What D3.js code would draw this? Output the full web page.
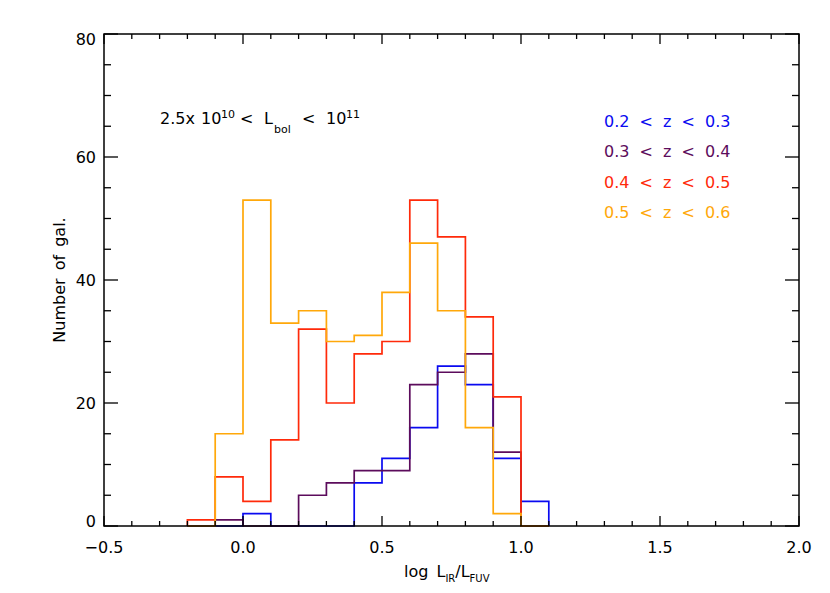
<!DOCTYPE html>
<html>
<head>
<meta charset="utf-8">
<script src="https://cdn.jsdelivr.net/npm/d3@7"></script>
<style>
  body { margin: 0; background: #fff; }
  text { font-family: 'DejaVu Sans', sans-serif; fill: #000; }
</style>
</head>
<body>
<script>
// histogram bins (left edges), width 0.1
const binStarts = [-0.2, -0.1, 0.0, 0.1, 0.2, 0.3, 0.4, 0.5, 0.6, 0.7, 0.8, 0.9, 1.0]
const binWidth = 0.1

const countsZ02 = [0, 0, 2, 0, 0, 0, 7, 11, 16, 26, 23, 11, 4]
const countsZ03 = [0, 1, 0, 0, 5, 7, 9, 9, 23, 25, 28, 12, 0]
const countsZ04 = [1, 8, 4, 14, 32, 20, 28, 30, 53, 47, 34, 21, 0]
const countsZ05 = [0, 15, 53, 33, 35, 30, 31, 38, 46, 35, 16, 2, 0]

const seriesLabels = ['0.2 < z < 0.3', '0.3 < z < 0.4', '0.4 < z < 0.5', '0.5 < z < 0.6']
const seriesColors = ['#0a0af0', '#5c0c5c', '#ff2a0a', '#ffa80a']

const xTicks = [-0.5, 0.0, 0.5, 1.0, 1.5, 2.0]
const xTickLabels = ['\u22120.5', '0.0', '0.5', '1.0', '1.5', '2.0']
const yTicks = [0, 20, 40, 60, 80]

const width = 830
const height = 593
const plotL = 104, plotR = 799, plotT = 34, plotB = 526

const svg = d3.select('body')
    .append('svg')
    .attr('width', width)
    .attr('height', height)

const x = d3.scaleLinear().domain([-0.5, 2.0]).range([plotL, plotR])
const y = d3.scaleLinear().domain([0, 80]).range([plotB, plotT])

// step histograms, drawn back to front
const allCounts = [countsZ02, countsZ03, countsZ04, countsZ05]
const line = d3.line()
    .x(d => x(d[0]))
    .y(d => y(d[1]))

allCounts.forEach((counts, i) => {
    const pts = [[binStarts[0], 0]]
    binStarts.forEach((b, j) => {
        pts.push([b, counts[j]])
        pts.push([b + binWidth, counts[j]])
    })
    pts.push([binStarts[binStarts.length - 1] + binWidth, 0])
    svg.append('path')
        .attr('d', line(pts))
        .attr('fill', 'none')
        .attr('stroke', seriesColors[i])
        .attr('stroke-width', 1.7)
})

// frame
svg.append('rect')
    .attr('x', plotL)
    .attr('y', plotT)
    .attr('width', plotR - plotL)
    .attr('height', plotB - plotT)
    .attr('fill', 'none')
    .attr('stroke', '#000')
    .attr('stroke-width', 1.5)

// ticks on all four sides, pointing inward
const ticks = svg.append('g').attr('stroke', '#000').attr('stroke-width', 1.3)
const xMinor = d3.range(-5, 21).map(k => k / 10)
xMinor.forEach(v => {
    const major = xTicks.some(t => Math.abs(t - v) < 1e-6)
    const len = major ? 10 : 5
    ticks.append('line').attr('x1', x(v)).attr('x2', x(v)).attr('y1', plotB).attr('y2', plotB - len)
    ticks.append('line').attr('x1', x(v)).attr('x2', x(v)).attr('y1', plotT).attr('y2', plotT + len)
})
const yMinor = d3.range(0, 81, 5)
yMinor.forEach(v => {
    const major = yTicks.includes(v)
    const len = major ? 14 : 7
    ticks.append('line').attr('y1', y(v)).attr('y2', y(v)).attr('x1', plotL).attr('x2', plotL + len)
    ticks.append('line').attr('y1', y(v)).attr('y2', y(v)).attr('x1', plotR).attr('x2', plotR - len)
})

// tick labels
svg.append('g')
    .selectAll('text')
    .data(xTicks)
    .enter()
    .append('text')
    .attr('x', d => x(d))
    .attr('y', 553)
    .attr('text-anchor', 'middle')
    .attr('font-size', 16)
    .text((d, i) => xTickLabels[i])

svg.append('g')
    .selectAll('text')
    .data(yTicks)
    .enter()
    .append('text')
    .attr('x', 96)
    .attr('y', d => Math.min(Math.max(y(d), plotT + 5), plotB - 5) + 6)
    .attr('text-anchor', 'end')
    .attr('font-size', 16)
    .text(d => d)

// axis titles
const xTitle = svg.append('text')
    .attr('x', 404)
    .attr('y', 577)
    .attr('font-size', 16)
    .style('word-spacing', '3px')
xTitle.append('tspan').text('log L')
xTitle.append('tspan').attr('font-size', 10).attr('dy', 5).text('IR')
xTitle.append('tspan').attr('dy', -5).text('/L')
xTitle.append('tspan').attr('font-size', 10).attr('dy', 5).text('FUV')

svg.append('text')
    .attr('transform', 'translate(65,280) rotate(-90)')
    .attr('text-anchor', 'middle')
    .attr('font-size', 16)
    .style('word-spacing', '3px')
    .text('Number of gal.')

// luminosity range note
const note = svg.append('text').attr('y', 124).attr('font-size', 16)
note.append('tspan').attr('x', 160).text('2.5x')
note.append('tspan').attr('x', 201).text('10')
note.append('tspan').attr('x', 221).attr('dy', -6).attr('font-size', 11).text('10')
note.append('tspan').attr('x', 240).attr('dy', 6).text('<')
note.append('tspan').attr('x', 264).text('L')
note.append('tspan').attr('x', 274).attr('dy', 9).attr('font-size', 11).text('bol')
note.append('tspan').attr('x', 302).attr('dy', -9).text('<')
note.append('tspan').attr('x', 326).text('10')
note.append('tspan').attr('x', 346).attr('dy', -6).attr('font-size', 11).text('11')

// legend
svg.append('g')
    .selectAll('text')
    .data(seriesLabels)
    .enter()
    .append('text')
    .attr('x', 604)
    .attr('y', (d, i) => 127 + i * 30.3)
    .attr('font-size', 16)
    .style('word-spacing', '5px')
    .style('fill', (d, i) => seriesColors[i])
    .text(d => d)
</script>
</body>
</html>
